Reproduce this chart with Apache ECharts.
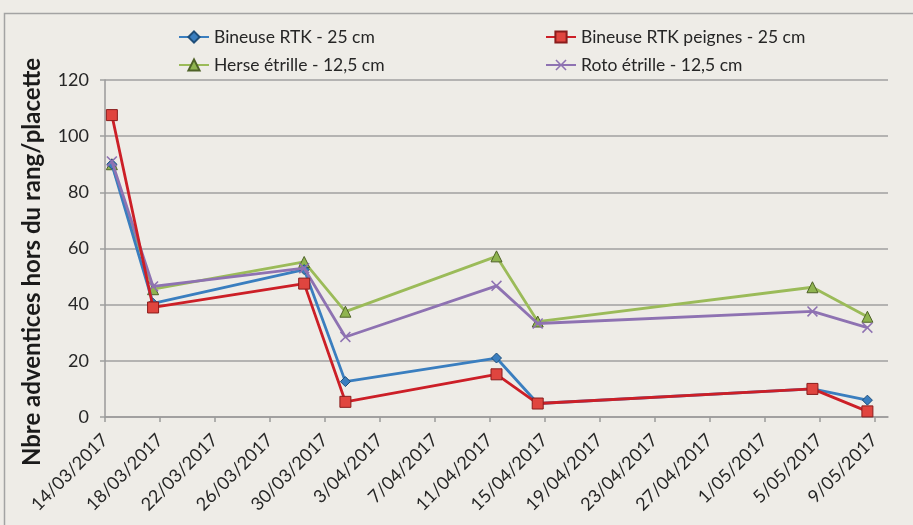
<!DOCTYPE html>
<html>
<head>
<meta charset="utf-8">
<script src="https://cdn.jsdelivr.net/npm/echarts@6/dist/echarts.min.js"></script>
<style>
html,body{margin:0;padding:0;background:#EEECE7;}
#c{width:913px;height:525px;}
</style>
</head>
<body>
<div id="c"></div>
<script>
// ---- data ----
const dates = ['2017-03-14','2017-03-17','2017-03-28','2017-03-31','2017-04-11','2017-04-14','2017-05-04','2017-05-08'];
const seriesNames = ['Bineuse RTK - 25 cm','Bineuse RTK peignes - 25 cm','Herse étrille - 12,5 cm','Roto étrille - 12,5 cm'];
const bineuseRTK = [90, 40.5, 52.5, 12.6, 21, 4.8, 10, 6];
const bineusePeignes = [107.5, 39, 47.5, 5.4, 15.2, 4.8, 10, 2];
const herseEtrille = [90, 45.5, 55.2, 37.5, 57.2, 34, 46.2, 35.7];
const rotoEtrille = [91, 46.5, 53, 28.5, 46.7, 33.3, 37.6, 31.8];
const tickLabels = ['14/03/2017','18/03/2017','22/03/2017','26/03/2017','30/03/2017','3/04/2017','7/04/2017','11/04/2017','15/04/2017','19/04/2017','23/04/2017','27/04/2017','1/05/2017','5/05/2017','9/05/2017'];
const yTicks = [0,20,40,60,80,100,120];
const axisStartDate = '2017-03-14';

// ---- helpers ----
const DAY = 86400000;
function dayOffset(s){ return (Date.parse(s + 'T12:00:00Z') - Date.parse(axisStartDate + 'T00:00:00Z')) / DAY; }
function pairs(vals){ return dates.map((d,i)=>[dayOffset(d), vals[i]]); }

const FONT = 'Lato';
const crossPath = 'path://M0,1L1,0L5,4L9,0L10,1L6,5L10,9L9,10L5,6L1,10L0,9L4,5Z';

const chart = echarts.init(document.getElementById('c'), null, {renderer:'canvas'});
const legendBase = {orient:'horizontal', padding:0, itemWidth:30, itemHeight:14, itemGap:5,
  textStyle:{fontFamily:FONT, fontSize:17.5, color:'#262626'}};
chart.setOption({
  backgroundColor:'#EEECE7',
  animation:false,
  graphic:[
    {type:'rect', shape:{x:4.5, y:13.5, width:1000, height:1000}, style:{fill:'none', stroke:'#A3A3A3', lineWidth:1.5}},
    {type:'text', x:32, y:262, rotation:Math.PI/2,
     style:{text:'Nbre adventices hors du rang/placette', fontFamily:FONT, fontWeight:'bold', fontSize:24,
            fill:'#1a1a1a', textAlign:'center', textVerticalAlign:'middle'}}
  ],
  legend:[
    Object.assign({}, legendBase, {data:[seriesNames[0]], left:178, top:28}),
    Object.assign({}, legendBase, {data:[seriesNames[1]], left:545, top:28}),
    Object.assign({}, legendBase, {data:[seriesNames[2]], left:178, top:56}),
    Object.assign({}, legendBase, {data:[seriesNames[3]], left:545, top:56})
  ],
  grid:{left:105, right:25, top:80, bottom:108, containLabel:false},
  xAxis:{
    type:'value', min:0, max:57, interval:4,
    axisLine:{show:true, lineStyle:{color:'#9A9A9A', width:1.5}},
    axisTick:{show:true, length:5, lineStyle:{color:'#9A9A9A', width:1.5}},
    splitLine:{show:false},
    axisLabel:{rotate:45, margin:20, fontFamily:FONT, fontSize:18, color:'#262626',
      showMaxLabel:false,
      formatter:function(v){ return (v % 4 === 0) ? (tickLabels[v/4] || '') : ''; }}
  },
  yAxis:{
    type:'value', min:yTicks[0], max:yTicks[yTicks.length-1], interval:yTicks[1]-yTicks[0],
    axisLine:{show:true, lineStyle:{color:'#9A9A9A', width:1.5}},
    axisTick:{show:true, length:5, lineStyle:{color:'#A0A0A0', width:1.5}},
    splitLine:{show:true, lineStyle:{color:'#A0A0A0', width:1.5}},
    axisLabel:{margin:16, fontFamily:FONT, fontSize:18, color:'#262626'}
  },
  series:[
    {name:seriesNames[0], type:'line', data:pairs(bineuseRTK), z:3,
     symbol:'diamond', symbolSize:10,
     lineStyle:{color:'#3A7EBF', width:2.8},
     itemStyle:{color:'#3A7EBF', borderColor:'#1F4E79', borderWidth:1}},
    {name:seriesNames[1], type:'line', data:pairs(bineusePeignes), z:5,
     symbol:'rect', symbolSize:11,
     lineStyle:{color:'#CC1F27', width:2.8},
     itemStyle:{color:'#E0453F', borderColor:'#8A1C1C', borderWidth:1}},
    {name:seriesNames[2], type:'line', data:pairs(herseEtrille), z:2,
     symbol:'triangle', symbolSize:11,
     lineStyle:{color:'#9BBB59', width:2.8},
     itemStyle:{color:'#8FB450', borderColor:'#4F6228', borderWidth:1}},
    {name:seriesNames[3], type:'line', data:pairs(rotoEtrille), z:4,
     symbol:crossPath, symbolSize:11,
     lineStyle:{color:'#8E72B2', width:2.8},
     itemStyle:{color:'#8E72B2'}}
  ]
});
</script>
</body>
</html>
